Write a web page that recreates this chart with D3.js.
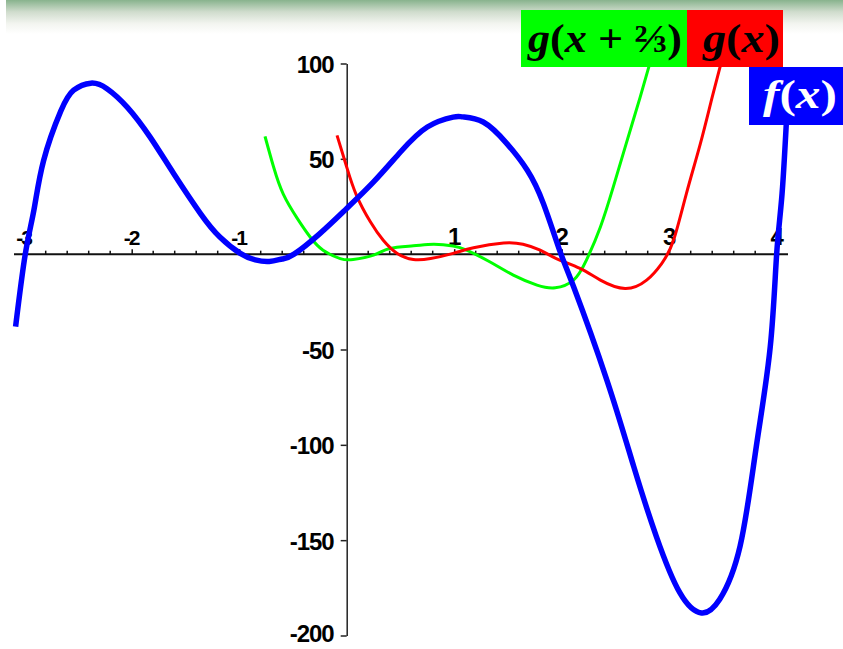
<!DOCTYPE html>
<html><head><meta charset="utf-8">
<script src="https://cdn.jsdelivr.net/npm/d3@7"></script>
<style>html,body{margin:0;padding:0;background:#fff;overflow:hidden}</style>
</head><body>
<script>
// ---- data ----
const fX = [-3.08,-2.99,-2.91,-2.82,-2.66,-2.54,-2.38,-2.23,-2.04,-1.83,-1.61,-1.36,-1.18,-0.99,-0.85,-0.72,-0.60,-0.49,-0.25,0.0,0.25,0.50,0.75,0.99,1.08,1.27,1.49,1.68,1.83,1.98,2.11,2.42,2.67,2.88,3.10,3.30,3.47,3.66,3.81,3.94,4.0,4.05,4.10];
const fY = [-38,0,23,49,75,86,89.7,86.8,77,61.5,42.3,21.3,9,0.4,-3,-3.8,-2.5,0,10.8,24,37.9,53.6,66.7,71.9,72,69.3,58,44,26.5,2.1,-17,-66,-111.4,-148,-177.7,-188.2,-181,-153,-101,-48.6,0.4,31.8,80];
const gShiftX = [-0.76,-0.68,-0.59,-0.46,-0.34,-0.22,-0.06,0.06,0.25,0.40,0.62,0.81,0.99,1.12,1.33,1.55,1.77,1.94,2.11,2.23,2.36,2.48,2.60,2.73,2.84];
const gShiftY = [61.8,45.7,31.5,18.8,9,2.1,-2.3,-2.8,-0.5,3,4.4,5.2,4.3,2,-4,-11,-16.2,-17.6,-13.6,-3.1,14.3,35.3,58,82.4,104];
const gX = [-0.09,0.0,0.09,0.22,0.34,0.47,0.62,0.78,0.99,1.18,1.46,1.64,1.80,1.95,2.17,2.36,2.59,2.79,2.93,3.04,3.16,3.29,3.40,3.50];
const gY = [62.3,45.7,31,17,7.3,0.4,-2.8,-2.3,0.4,3.4,5.9,5.2,2.1,-2.3,-7.5,-13.6,-18,-13.6,-4.9,7.3,31.8,58,82.4,104];
const xTickValues = [-3,-2,-1,1,2,3,4];
const xTickLabels = ["-3","-2","-1","1","2","3","4"];
const yTickValues = [100,50,-50,-100,-150,-200];
const yTickLabels = ["100","50","-50","-100","-150","-200"];
const legendLabels = ["g(x + ⅔)","g(x)","f(x)"];

const W = 843, H = 649;
const svg = d3.select("body").append("svg").attr("width", W).attr("height", H);

// header gradient
const defs = svg.append("defs");
const lg = defs.append("linearGradient").attr("id","hdr").attr("x1",0).attr("y1",0).attr("x2",0).attr("y2",1);
lg.append("stop").attr("offset","0%").attr("stop-color","#88b38d");
lg.append("stop").attr("offset","35%").attr("stop-color","#d0dccd");
lg.append("stop").attr("offset","70%").attr("stop-color","#f3f5f0");
lg.append("stop").attr("offset","100%").attr("stop-color","#ffffff");
svg.append("rect").attr("x",6).attr("y",0).attr("width",W-6).attr("height",34).attr("fill","url(#hdr)");

const x = d3.scaleLinear().domain([-3,4]).range([24.2,776.7]);
const y = d3.scaleLinear().domain([-200,100]).range([635.5,63.5]);

// x axis line
const x0 = x(0), y0 = y(0);
svg.append("line").attr("x1",14).attr("x2",788).attr("y1",y0).attr("y2",y0)
  .attr("stroke","#111").attr("stroke-width",2);
// minor ticks
const minor = d3.range(-3,4.001,0.2).filter(v => Math.abs(v - Math.round(v)) > 1e-6);
svg.append("g").selectAll("line").data(minor).join("line")
  .attr("x1",d=>x(d)).attr("x2",d=>x(d)).attr("y1",y0).attr("y2",y0-3.5)
  .attr("stroke","#111").attr("stroke-width",1.5);
// major ticks + labels via d3 axis
const xAxis = d3.axisTop(x).tickValues(xTickValues).tickFormat((d,i)=>xTickLabels[i]).tickSize(5).tickSizeOuter(0);
const gx = svg.append("g").attr("transform",`translate(0,${y0})`).call(xAxis);
gx.select(".domain").remove();
gx.attr("font-size",null).attr("font-family",null);
gx.selectAll(".tick line").attr("stroke","#111").attr("stroke-width",1.5);
gx.selectAll(".tick text").attr("y",-9).attr("dy",0).attr("dx",-1)
  .attr("font-family","Liberation Sans, Arial, sans-serif").attr("font-weight","bold")
  .attr("font-size", d => d < 0 ? 21 : 24).attr("letter-spacing",-2).attr("fill","#000");

// y axis
const yAxis = d3.axisLeft(y).tickValues(yTickValues).tickFormat((d,i)=>yTickLabels[i]).tickSize(6).tickSizeOuter(0);
const gy = svg.append("g").attr("transform",`translate(${x0},0)`).call(yAxis);
gy.attr("font-size",null).attr("font-family",null);
gy.select(".domain").attr("stroke","#222").attr("stroke-width",1.5);
gy.selectAll(".tick line").attr("stroke","#222").attr("stroke-width",1.5);
gy.selectAll(".tick text").attr("x",-13).attr("dy",0).attr("y", d => d === -200 ? 6 : 9)
  .attr("font-family","Liberation Sans, Arial, sans-serif").attr("font-weight","bold")
  .attr("font-size",24).attr("letter-spacing",-1).attr("fill","#000");

// curves
const line = d3.line().x(d=>x(d[0])).y(d=>y(d[1])).curve(d3.curveNatural);
const zip = (a,b)=>a.map((v,i)=>[v,b[i]]);
svg.append("path").attr("d",line(zip(gShiftX,gShiftY))).attr("fill","none").attr("stroke","#00ff00").attr("stroke-width",3);
svg.append("path").attr("d",line(zip(gX,gY))).attr("fill","none").attr("stroke","#ff0000").attr("stroke-width",3);
svg.append("path").attr("d",line(zip(fX,fY))).attr("fill","none").attr("stroke","#0000ff").attr("stroke-width",5.5).attr("stroke-linejoin","round");

// legend boxes
function label(bx, by, bw, bh, fill, parts, tx, ty, tlen, color){
  svg.append("rect").attr("x",bx).attr("y",by).attr("width",bw).attr("height",bh).attr("fill",fill);
  const t = svg.append("text").attr("x",tx).attr("y",ty)
    .attr("font-family","Liberation Serif, Times New Roman, serif").attr("font-weight","bold")
    .attr("font-size",40).attr("fill",color)
    .attr("textLength",tlen).attr("lengthAdjust","spacingAndGlyphs");
  parts.forEach(p => t.append("tspan").attr("font-style", p[1] ? "italic" : "normal").text(p[0]));
}
label(521,10,166,57,"#00ff00",[["g",1],["(",0],["x",1],[" + ⅔",0],[")",0]],528,52,154,"#000");
label(687,10,96,57,"#ff0000",[["g",1],["(",0],["x",1],[")",0]],703,52,77,"#000");
label(749,67,94,58,"#0000ff",[["f",1],["(",0],["x",1],[")",0]],763,108,74,"#fff");
</script>
</body></html>
